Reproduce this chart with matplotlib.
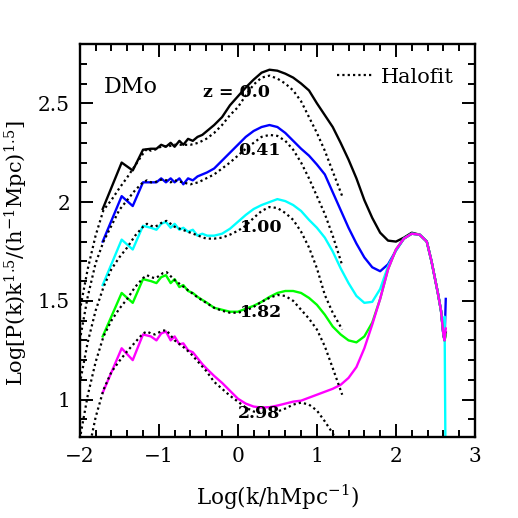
import matplotlib
matplotlib.use("Agg")
import matplotlib.pyplot as plt
from matplotlib.ticker import MultipleLocator, FormatStrFormatter

plt.rcParams["font.family"] = "DejaVu Serif"
plt.rcParams["mathtext.fontset"] = "dejavuserif"

# simulation curves, shared k-bins (log10 k)
x_sim = [-1.71, -1.47, -1.33, -1.20, -1.10, -1.03, -0.97, -0.91, -0.85, -0.80,
         -0.74, -0.69, -0.63, -0.57, -0.51, -0.45, -0.39, -0.30, -0.20, -0.10,
         0.0, 0.1, 0.2, 0.3, 0.4, 0.5, 0.6, 0.7, 0.8, 0.9,
         1.0, 1.1, 1.2, 1.3, 1.4, 1.5, 1.6, 1.7, 1.8, 1.9,
         2.0, 2.1, 2.2, 2.3, 2.39, 2.45, 2.53, 2.57, 2.60, 2.615, 2.63]

y_z000 = [1.965, 2.20, 2.16, 2.265, 2.27, 2.27, 2.29, 2.28, 2.30, 2.28,
          2.31, 2.29, 2.32, 2.31, 2.33, 2.34, 2.36, 2.39, 2.43, 2.49,
          2.535, 2.58, 2.62, 2.655, 2.67, 2.665, 2.65, 2.63, 2.60, 2.565,
          2.50, 2.44, 2.38, 2.30, 2.215, 2.12, 2.01, 1.92, 1.845, 1.805,
          1.80, 1.82, 1.845, 1.835, 1.80, 1.70, 1.54, 1.45, 1.33, 1.30, 1.34]
y_z041 = [1.80, 2.03, 1.98, 2.10, 2.10, 2.10, 2.12, 2.10, 2.12, 2.10,
          2.12, 2.09, 2.12, 2.11, 2.13, 2.14, 2.15, 2.17, 2.21, 2.25,
          2.29, 2.33, 2.36, 2.38, 2.39, 2.38, 2.35, 2.31, 2.27, 2.235,
          2.19, 2.14, 2.05, 1.96, 1.87, 1.79, 1.72, 1.67, 1.65, 1.685,
          1.755, 1.815, 1.84, 1.835, 1.80, 1.70, 1.54, 1.45, 1.33, 1.30, 1.51]
y_z100 = [1.58, 1.81, 1.76, 1.88, 1.87, 1.86, 1.89, 1.90, 1.87, 1.89,
          1.86, 1.87, 1.85, 1.86, 1.83, 1.84, 1.83, 1.83, 1.84, 1.865,
          1.90, 1.935, 1.965, 1.985, 2.00, 2.015, 2.005, 1.985, 1.955, 1.91,
          1.87, 1.82, 1.75, 1.665, 1.59, 1.525, 1.49, 1.495, 1.56, 1.675,
          1.755, 1.815, 1.84, 1.835, 1.80, 1.70, 1.54, 1.45, 1.33, 1.42, 0.5]
y_z182 = [1.32, 1.54, 1.49, 1.61, 1.60, 1.59, 1.62, 1.63, 1.59, 1.61,
          1.57, 1.58, 1.55, 1.54, 1.52, 1.505, 1.49, 1.465, 1.455, 1.445,
          1.445, 1.46, 1.475, 1.495, 1.52, 1.54, 1.55, 1.55, 1.54, 1.515,
          1.48, 1.43, 1.37, 1.33, 1.30, 1.29, 1.32, 1.39, 1.51, 1.66,
          1.76, 1.815, 1.84, 1.835, 1.80, 1.70, 1.54, 1.45, 1.33, 1.30, 1.33]
y_z298 = [1.035, 1.26, 1.20, 1.33, 1.32, 1.30, 1.335, 1.345, 1.30, 1.32,
          1.28, 1.285, 1.25, 1.24, 1.21, 1.18, 1.155, 1.12, 1.085, 1.045,
          1.005, 0.98, 0.965, 0.96, 0.962, 0.97, 0.98, 0.99, 0.995, 1.01,
          1.025, 1.04, 1.055, 1.075, 1.11, 1.165, 1.26, 1.38, 1.51, 1.66,
          1.76, 1.815, 1.84, 1.835, 1.80, 1.70, 1.54, 1.45, 1.33, 1.30, 1.36]

# halofit predictions
x_hf = [-2.0, -1.9, -1.8, -1.7, -1.6, -1.5, -1.4, -1.3, -1.2, -1.15,
        -1.1, -1.05, -1.0, -0.95, -0.9, -0.85, -0.8, -0.7, -0.6, -0.5,
        -0.4, -0.3, -0.2, -0.1, 0.0, 0.1, 0.2, 0.3, 0.4, 0.5,
        0.6, 0.7, 0.8, 0.9, 1.0, 1.1, 1.2, 1.32]

hf_z000 = [1.45, 1.66, 1.83, 1.96, 2.01, 2.07, 2.125, 2.185, 2.245, 2.27,
           2.26, 2.265, 2.275, 2.285, 2.28, 2.285, 2.29, 2.29, 2.29, 2.30,
           2.32, 2.35, 2.39, 2.44, 2.48, 2.54, 2.595, 2.63, 2.64, 2.625,
           2.60, 2.565, 2.51, 2.43, 2.35, 2.26, 2.155, 2.03]
hf_z041 = [1.30, 1.52, 1.69, 1.80, 1.88, 1.96, 2.01, 2.06, 2.10, 2.11,
           2.10, 2.10, 2.11, 2.115, 2.11, 2.10, 2.11, 2.10, 2.09, 2.10,
           2.12, 2.14, 2.17, 2.20, 2.235, 2.27, 2.30, 2.33, 2.34, 2.335,
           2.31, 2.265, 2.20, 2.12, 2.03, 1.94, 1.83, 1.68]
hf_z100 = [1.08, 1.29, 1.45, 1.57, 1.66, 1.72, 1.77, 1.83, 1.875, 1.89,
           1.88, 1.875, 1.885, 1.90, 1.905, 1.89, 1.875, 1.86, 1.845, 1.83,
           1.815, 1.815, 1.82, 1.835, 1.855, 1.88, 1.92, 1.955, 1.975, 1.97,
           1.945, 1.91, 1.85, 1.77, 1.665, 1.53, 1.44, 1.355]
hf_z182 = [0.80, 1.02, 1.19, 1.32, 1.40, 1.46, 1.51, 1.57, 1.615, 1.63,
           1.62, 1.615, 1.625, 1.64, 1.645, 1.625, 1.605, 1.575, 1.545, 1.515,
           1.49, 1.465, 1.45, 1.44, 1.44, 1.45, 1.47, 1.495, 1.515, 1.53,
           1.525, 1.50, 1.455, 1.41, 1.355, 1.27, 1.16, 1.025]
hf_z298 = [0.50, 0.72, 0.91, 1.05, 1.14, 1.195, 1.245, 1.29, 1.335, 1.345,
           1.335, 1.33, 1.34, 1.35, 1.35, 1.325, 1.30, 1.27, 1.235, 1.19,
           1.145, 1.09, 1.055, 1.02, 0.99, 0.96, 0.94, 0.932, 0.93, 0.94,
           0.955, 0.975, 0.985, 0.975, 0.945, 0.89, 0.83, 0.74]

sim_curves = [y_z000, y_z041, y_z100, y_z182, y_z298]
hf_curves = [hf_z000, hf_z041, hf_z100, hf_z182, hf_z298]
colors = ["black", "#0000ff", "#00ffff", "#00ff00", "#ff00ff"]
z_labels = ["z = 0.0", "0.41", "1.00", "1.82", "2.98"]
label_x = [-0.44, 0.0, 0.02, 0.02, 0.0]
label_y = [2.555, 2.26, 1.87, 1.44, 0.93]

fig = plt.figure(figsize=(5.18, 5.18), dpi=100)
ax = fig.add_axes([0.154, 0.156, 0.763, 0.759])

for yy, c in zip(sim_curves, colors):
    ax.plot(x_sim, yy, color=c, lw=1.7)

for i, yy in enumerate(hf_curves):
    ax.plot(x_hf, yy, color="black", lw=1.6, ls=(0, (1, 1.4)),
            label="Halofit" if i == 0 else None)

for s, lx, ly in zip(z_labels, label_x, label_y):
    ax.text(lx, ly, s, fontsize=12.5, fontweight="bold", va="center", ha="left")

ax.text(-1.69, 2.58, "DMo", fontsize=16, va="center", ha="left")

leg = ax.legend(loc="upper right", bbox_to_anchor=(0.945, 0.94), frameon=False,
                fontsize=15, handlelength=1.7, handletextpad=0.4,
                borderpad=0, borderaxespad=0)

ax.set_xlim(-2, 3)
ax.set_ylim(0.81, 2.80)
ax.xaxis.set_major_locator(MultipleLocator(1))
ax.xaxis.set_minor_locator(MultipleLocator(0.2))
ax.yaxis.set_major_locator(MultipleLocator(0.5))
ax.yaxis.set_minor_locator(MultipleLocator(0.1))
ax.yaxis.set_major_formatter(FormatStrFormatter("%g"))
ax.tick_params(which="both", direction="in", top=True, right=True, width=1.4,
               labelsize=14.5)
ax.tick_params(which="major", length=9.5, pad=7)
ax.tick_params(which="minor", length=5)
for sp in ax.spines.values():
    sp.set_linewidth(1.7)

ax.set_xlabel(r"Log(k/hMpc$^{-1}$)", fontsize=15.5)
ax.set_ylabel(r"Log[P(k)k$^{1.5}$/(h$^{-1}$Mpc)$^{1.5}$]", fontsize=15)
ax.xaxis.set_label_coords(0.5, -0.115)
ax.yaxis.set_label_coords(-0.125, 0.468)

plt.savefig("out.png", dpi=100)
